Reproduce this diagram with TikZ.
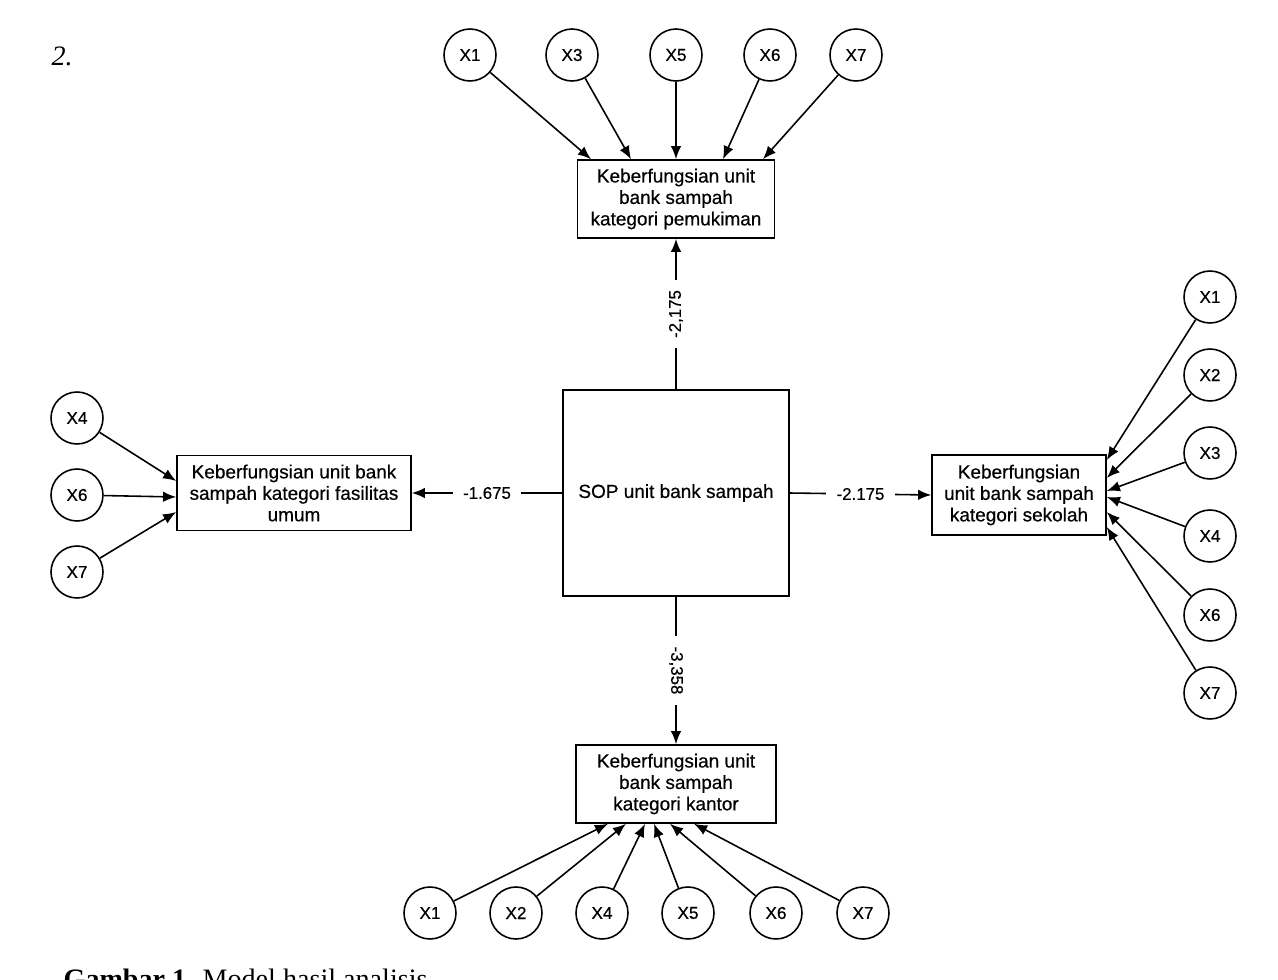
\documentclass[tikz,border=0pt]{standalone}
\usepackage{fontspec}
\setmainfont{Liberation Sans}
\newfontfamily\diafont[FakeBold=0.5]{Liberation Sans}
\newfontfamily\capserif{Liberation Serif}
\usetikzlibrary{arrows.meta}

\begin{document}
\begin{tikzpicture}[x=0.02cm,y=-0.02cm,
  >={Latex[length=7.5pt,width=6pt]},
  line width=0.9pt,
  var/.style={circle,draw,minimum size=1.04cm,inner sep=0pt,
    font=\diafont\fontsize{9.8}{11}\selectfont},
  box/.style={rectangle,draw,align=center,inner sep=0pt,
    font=\diafont\fontsize{10.8}{12.2}\selectfont},
  coef/.style={fill=white,inner sep=6pt,font=\diafont\fontsize{9.6}{11}\selectfont}]
\useasboundingbox (0,0) rectangle (1278,980);

\node[anchor=base west,font=\capserif\itshape\fontsize{16}{18}\selectfont] (num) at (45,66) {2.};

% middle and the four outcome boxes
\node[box,minimum width=4.52cm,minimum height=4.12cm] (sop) at (676,493) {SOP unit bank sampah};
\node[box,minimum width=3.94cm,minimum height=1.56cm] (pmk) at (676,199)
  {Keberfungsian unit\\bank sampah\\kategori pemukiman};
\node[box,minimum width=4.68cm,minimum height=1.5cm] (fas) at (294,493)
  {Keberfungsian unit bank\\sampah kategori fasilitas\\umum};
\node[box,minimum width=3.48cm,minimum height=1.6cm] (skl) at (1019,495)
  {Keberfungsian\\unit bank sampah\\kategori sekolah};
\node[box,minimum width=4.0cm,minimum height=1.56cm] (ktr) at (676,784)
  {Keberfungsian unit\\bank sampah\\kategori kantor};

\draw[->] (sop.north) -- node[coef,rotate=90] {-2,175} (pmk.south);
\draw[->] (sop.west) -- node[coef] {-1.675} (fas.east);
\draw[->] (sop.east) -- node[coef] {-2.175} (skl.west);
\draw[->] (sop.south) -- node[coef,rotate=-90] {-3,358} (ktr.north);

% indicators
\foreach \n/\x/\dx in {1/470/-85,3/572/-45,5/676/0,6/770/47,7/856/87} {
  \node[var] (p\n) at (\x,55) {X\n};
  \draw[->] (p\n) -- ([shift={(\dx,0)}]pmk.north);
}
\foreach \n/\y/\dy in {4/418/-12,6/495/4,7/572/19} {
  \node[var] (f\n) at (77,\y) {X\n};
  \draw[->] (f\n) -- ([shift={(0,\dy)}]fas.west);
}
\foreach \n/\y/\dy in {1/297/-35,2/375/-17,3/453/-4,4/536/2,6/615/17,7/693/32} {
  \node[var] (s\n) at (1210,\y) {X\n};
  \draw[->] (s\n) -- ([shift={(0,\dy)}]skl.east);
}
\foreach \n/\x/\dx in {1/430/-68,2/516/-50,4/602/-31,5/688/-22,6/776/-6,7/863/18} {
  \node[var] (k\n) at (\x,913) {X\n};
  \draw[->] (k\n) -- ([shift={(\dx,0)}]ktr.south);
}

\node[anchor=base west,font=\capserif\fontsize{16}{18}\selectfont] (cap) at (57,988)
  {\textbf{Gambar 1.} Model hasil analisis};
\end{tikzpicture}
\end{document}
